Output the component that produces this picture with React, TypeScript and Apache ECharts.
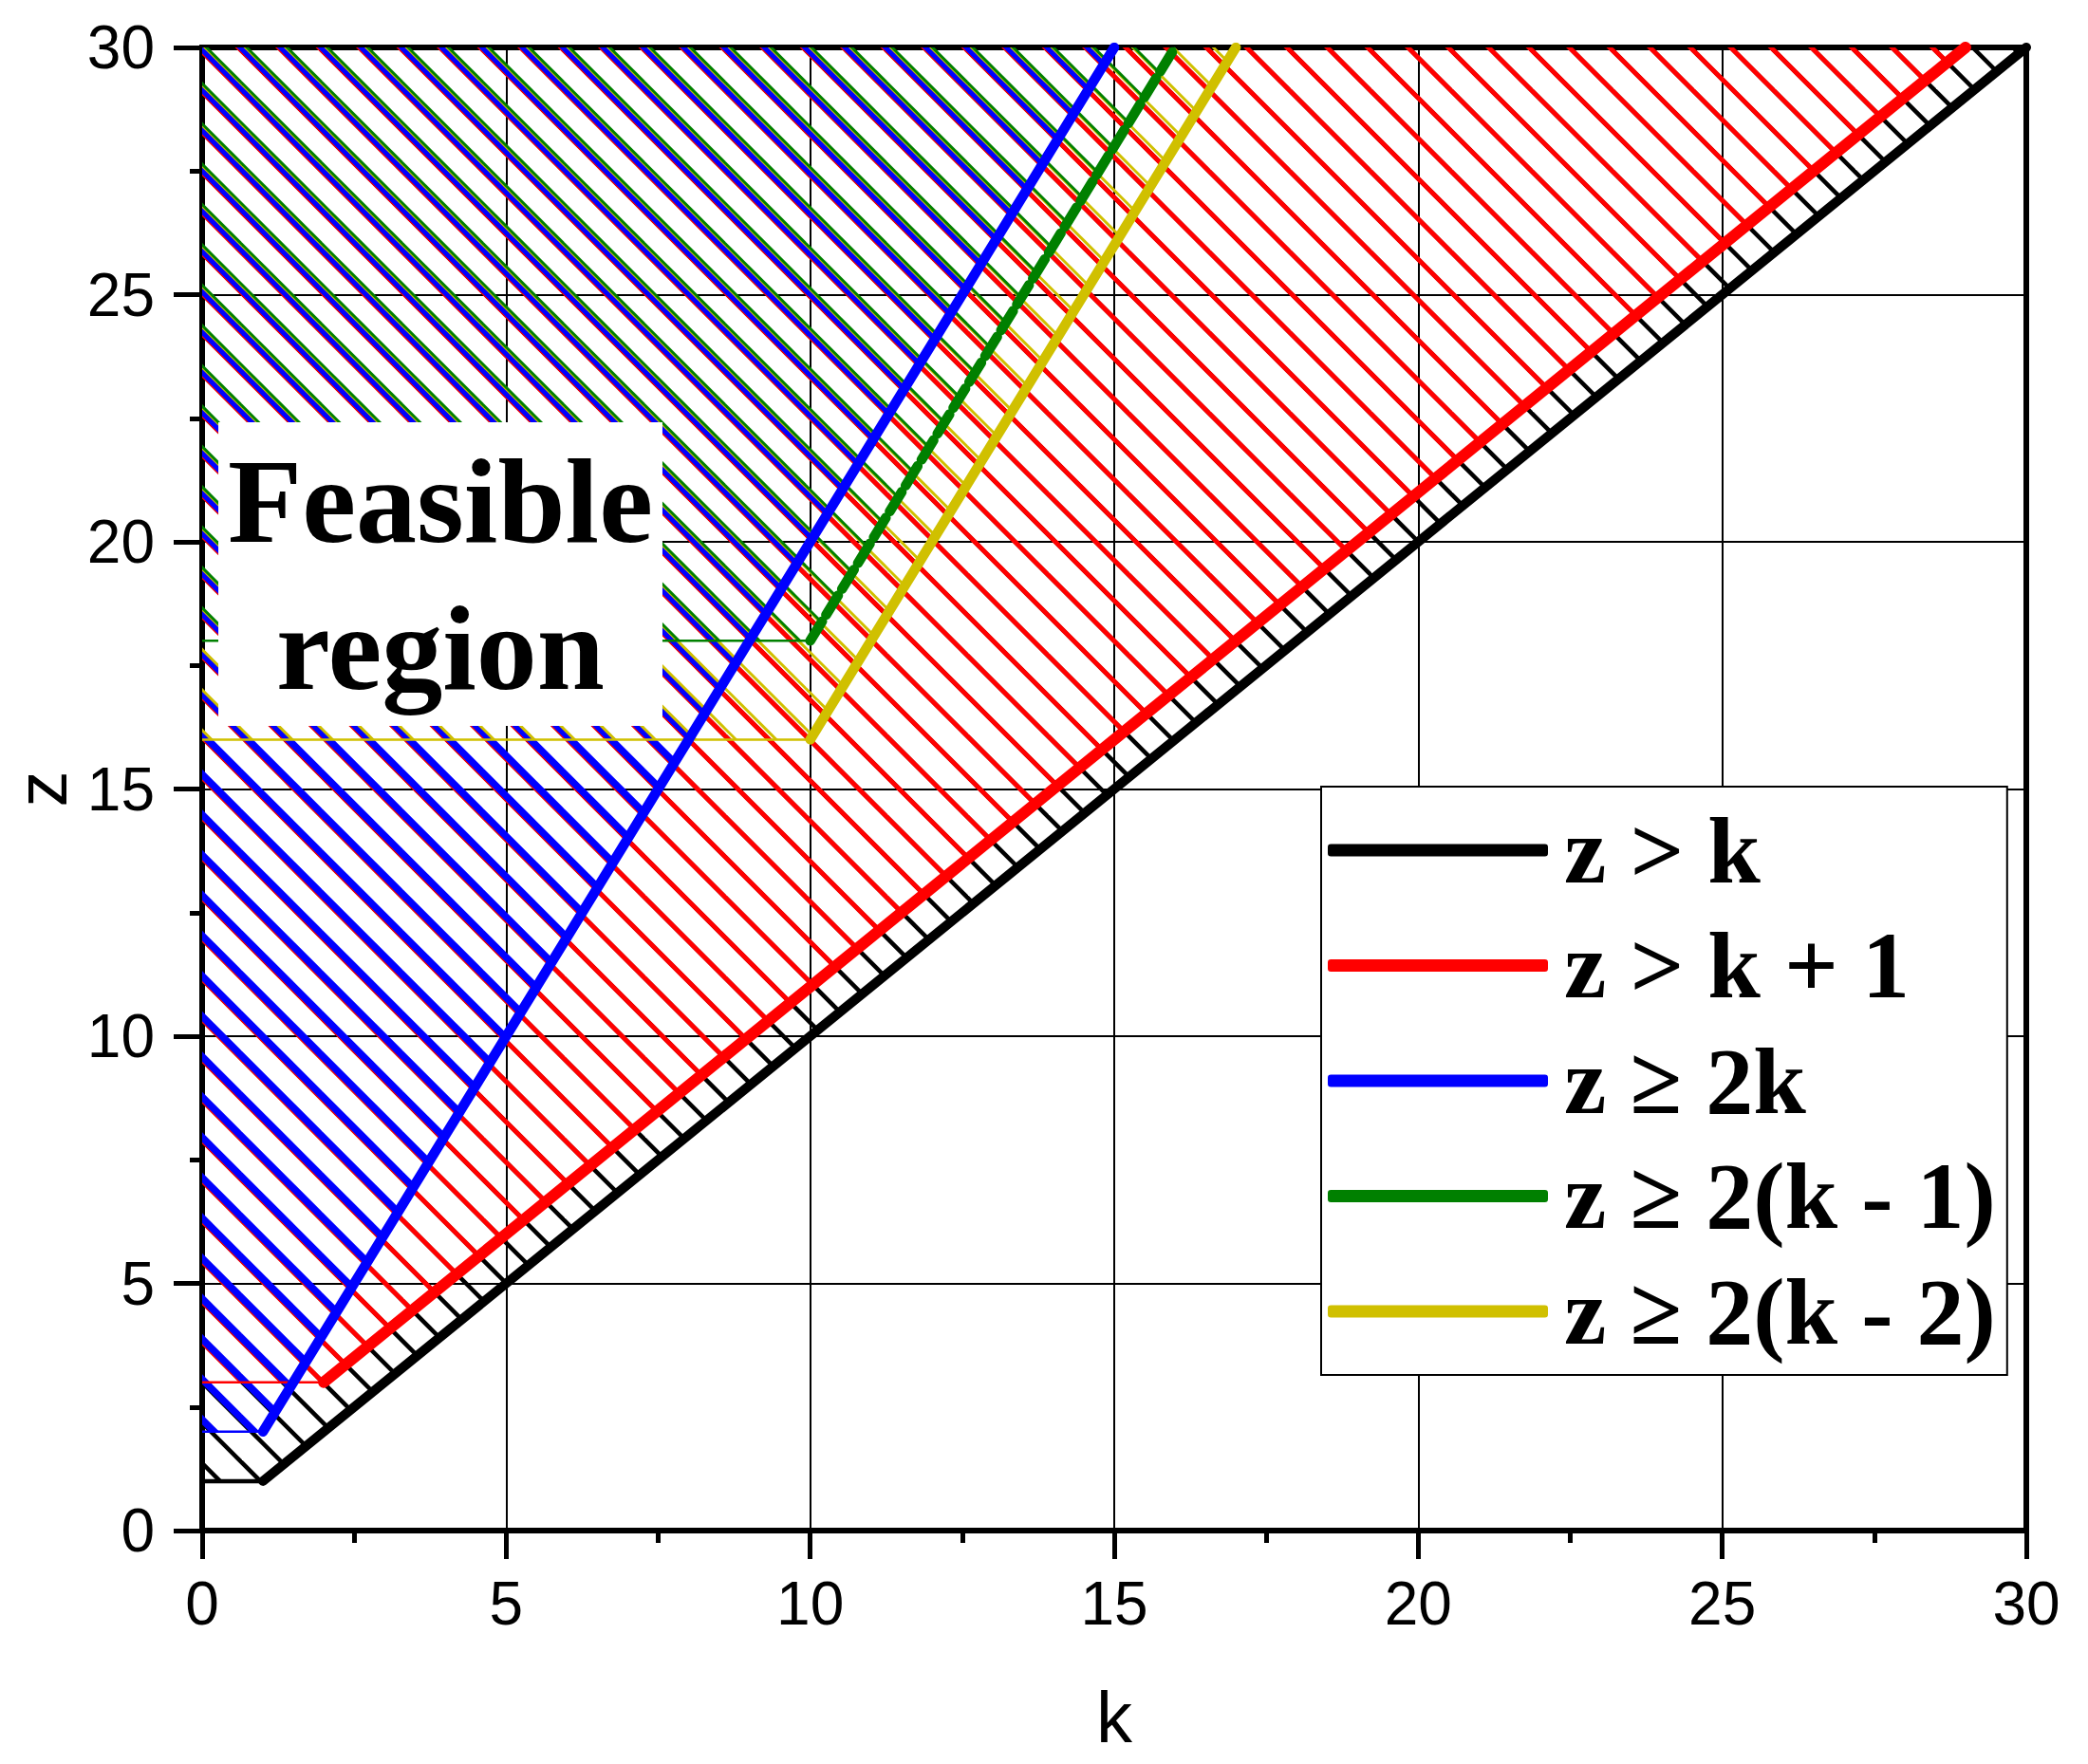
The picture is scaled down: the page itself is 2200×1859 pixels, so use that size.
import React, { useEffect, useRef } from 'react';
import * as echarts from 'echarts';

// Constraint labels and colours
const constraintNames = ['z > k', 'z > k + 1', 'z ≥ 2k', 'z ≥ 2(k - 1)', 'z ≥ 2(k - 2)'];
const constraintColors = ['#000000', '#ff0000', '#0000ff', '#008000', '#d0c000'];

// Region boundaries [k, z]: start on the z axis, corner, then end at z = 30
const boundaryZK = [[0, 1], [1, 1], [30, 30]];
const boundaryZK1 = [[0, 3], [2, 3], [29, 30]];
const boundary2K = [[0, 2], [1, 2], [15, 30]];
const boundary2K1 = [[0, 18], [10, 18], [16, 30]];
const boundary2K2 = [[0, 16], [10, 16], [17, 30]];
const boundaries = [boundaryZK, boundaryZK1, boundary2K, boundary2K1, boundary2K2];

// Axis ranges
const kRange = [0, 30];
const zRange = [0, 30];
const tickStep = 5;

// hatch styles: line width and phase offset of each region's hatching
const hatchWidths = [4.5, 5, 7.5, 3, 3];
const hatchOffsets = [11.5, 11.5, 8, 2.5, 4];
const boundaryWidths = [4.5, 2.5, 2.5, 2.5, 2.5];
const thickWidths = [10, 12, 10.5, 10.5, 10.5];
// drawing order of hatched regions (yellow under green)
const areaOrder = [0, 1, 2, 4, 3];

function hatch(color: string, width: number, offset: number) {
  const P = 42.5;
  const N = 2;
  const S = P * N;
  const c = document.createElement('canvas');
  c.width = S;
  c.height = S;
  const ctx = c.getContext('2d')!;
  ctx.strokeStyle = color;
  ctx.lineWidth = width;
  for (let k = -N - 1; k <= N + 1; k++) {
    const b = offset + k * P;
    ctx.beginPath();
    ctx.moveTo(-20, -20 + b);
    ctx.lineTo(S + 20, S + 20 + b);
    ctx.stroke();
  }
  return { image: c.toDataURL(), repeat: 'repeat', imageWidth: S, imageHeight: S };
}

export default function App() {
  const ref = useRef<HTMLDivElement>(null);
  useEffect(() => {
    if (!ref.current) return;
    const chart = echarts.init(ref.current, undefined, { renderer: 'svg' });

    const areaSeries = areaOrder.map((i) => ({
      type: 'line',
      name: 'region ' + constraintNames[i],
      data: boundaries[i],
      symbol: 'none',
      showSymbol: false,
      silent: true,
      z: 2,
      color: constraintColors[i],
      lineStyle: { color: constraintColors[i], width: boundaryWidths[i] },
      areaStyle: {
        color: hatch(constraintColors[i], hatchWidths[i], hatchOffsets[i]),
        origin: 'end',
        opacity: 1,
      },
    }));

    const lineSeries = boundaries.map((b, i) => ({
      type: 'line',
      name: constraintNames[i],
      data: b.slice(1),
      symbol: 'none',
      showSymbol: false,
      z: 3,
      color: constraintColors[i],
      itemStyle: { color: constraintColors[i] },
      lineStyle: {
        color: constraintColors[i],
        width: thickWidths[i],
        cap: 'round',
        type: i === 3 ? [24, 8] : 'solid',
      },
    }));

    const axisCommon = {
      type: 'value',
      interval: tickStep,
      nameLocation: 'middle',
      nameMoveOverlap: false,
      axisLine: { show: true, onZero: false, lineStyle: { color: '#000', width: 6 } },
      axisTick: { show: true, inside: false, length: 30, lineStyle: { color: '#000', width: 5 } },
      minorTick: { show: true, splitNumber: 2, length: 13, lineStyle: { color: '#000', width: 5 } },
      splitLine: { show: true, lineStyle: { color: '#000', width: 2 } },
    };

    chart.setOption({
      animation: false,
      backgroundColor: '#fff',
      grid: {
        left: 213,
        right: 65,
        top: 50,
        bottom: 246,
        show: true,
        borderColor: '#000',
        borderWidth: 6,
        containLabel: false,
        outerBoundsMode: 'none',
      },
      xAxis: {
        ...axisCommon,
        min: kRange[0],
        max: kRange[1],
        name: 'k',
        nameGap: 158,
        nameTextStyle: { fontFamily: 'Liberation Sans', fontSize: 76, color: '#000' },
        axisLabel: { fontFamily: 'Liberation Sans', fontSize: 64, color: '#000', margin: 45 },
      },
      yAxis: {
        ...axisCommon,
        min: zRange[0],
        max: zRange[1],
        name: 'z',
        nameGap: 140,
        nameTextStyle: { fontFamily: 'Liberation Sans', fontSize: 76, lineHeight: 60, color: '#000' },
        axisLabel: { fontFamily: 'Liberation Sans', fontSize: 64, color: '#000', margin: 50 },
      },
      legend: {
        data: constraintNames.map((n) => ({ name: n, icon: 'roundRect' })),
        orient: 'vertical',
        left: 1392,
        top: 829,
        itemWidth: 232,
        itemHeight: 13,
        itemGap: 11.5,
        padding: [12, 12, 12, 7],
        backgroundColor: '#fff',
        borderColor: '#000',
        borderWidth: 2,
        selectedMode: false,
        textStyle: {
          fontFamily: 'Liberation Serif',
          fontWeight: 'bold',
          fontSize: 100,
          lineHeight: 110,
          color: '#000',
          padding: [0, 0, 0, 12],
        },
      },
      graphic: [
        {
          type: 'text',
          x: 464,
          y: 445,
          z: 100,
          style: {
            text: 'Feasible\nregion',
            fill: '#000',
            fontFamily: 'Liberation Serif',
            fontWeight: 'bold',
            fontSize: 128,
            lineHeight: 155,
            align: 'center',
            verticalAlign: 'top',
            backgroundColor: '#fff',
            padding: [5, 10],
          },
        },
      ],
      series: [...areaSeries, ...lineSeries],
    });
    return () => chart.dispose();
  }, []);
  return (
    <div
      ref={ref}
      style={{ position: 'absolute', left: 0, top: 0, width: 2200, height: 1859 }}
    />
  );
}
